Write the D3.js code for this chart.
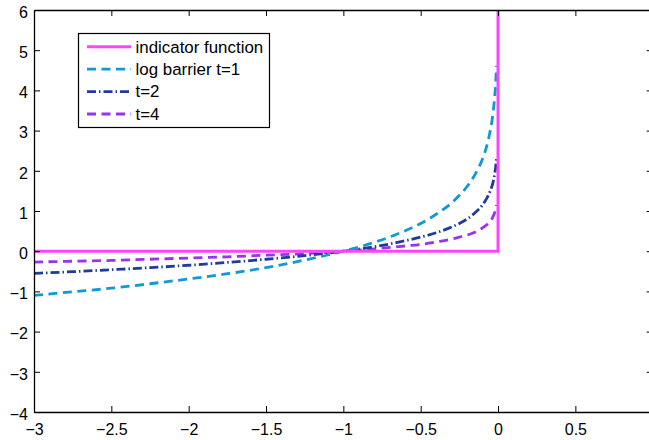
<!DOCTYPE html>
<html>
<head>
<meta charset="utf-8">
<script src="https://cdn.jsdelivr.net/npm/d3@7"></script>
<style>
  html, body { margin: 0; padding: 0; background: #fff; }
  svg { display: block; }
  text { font-family: "Liberation Sans", Arial, Helvetica, sans-serif; }
</style>
</head>
<body>
<svg id="chart" width="649" height="440"></svg>
<script>
// ---- data ----
const uValues = [-3, -2.75, -2.5, -2.25, -2, -1.75, -1.5, -1.25, -1, -0.8, -0.6, -0.5, -0.4, -0.3, -0.25, -0.2, -0.15, -0.1, -0.075, -0.05, -0.04, -0.03, -0.02, -0.015, -0.01];
const barrierT1 = [-1.10, -1.01, -0.92, -0.81, -0.69, -0.56, -0.41, -0.22, 0, 0.22, 0.51, 0.69, 0.92, 1.20, 1.39, 1.61, 1.90, 2.30, 2.59, 3.00, 3.22, 3.51, 3.91, 4.20, 4.61];
const barrierT2 = [-0.55, -0.51, -0.46, -0.41, -0.35, -0.28, -0.20, -0.11, 0, 0.11, 0.26, 0.35, 0.46, 0.60, 0.69, 0.80, 0.95, 1.15, 1.30, 1.50, 1.61, 1.75, 1.96, 2.10, 2.30];
const barrierT4 = [-0.27, -0.25, -0.23, -0.20, -0.17, -0.14, -0.10, -0.06, 0, 0.06, 0.13, 0.17, 0.23, 0.30, 0.35, 0.40, 0.47, 0.58, 0.65, 0.75, 0.80, 0.88, 0.98, 1.05, 1.15];
const indicatorU = [-3, 0, 0];
const indicatorY = [0, 0, 6];
const xTicks = [-3, -2.5, -2, -1.5, -1, -0.5, 0, 0.5, 1];
const yTicks = [-4, -3, -2, -1, 0, 1, 2, 3, 4, 5, 6];
const legendLabels = ["indicator function", "log barrier t=1", "t=2", "t=4"];

// ---- styles ----
const styles = [
  { color: "#ff44ff", dash: null, width: 3 },
  { color: "#1199d4", dash: "9,5.5", width: 2.8 },
  { color: "#1f3c9c", dash: "9,3,1.5,3", width: 2.8 },
  { color: "#9933ee", dash: "9,5.5", width: 2.8 }
];

const svg = d3.select("#chart");
const mLeft = 34, mRight = 652.7, mTop = 10, mBottom = 412;
const x = d3.scaleLinear().domain([-3, 1]).range([mLeft, mRight]);
const y = d3.scaleLinear().domain([-4, 6]).range([mBottom, mTop]);
const minus = s => String(s).replace("-", "\u2212");

svg.append("defs").append("clipPath").attr("id", "plotclip")
  .append("rect").attr("x", mLeft).attr("y", mTop).attr("width", mRight - mLeft).attr("height", mBottom - mTop);

const series = [
  indicatorU.map((u, i) => [u, indicatorY[i]]),
  uValues.map((u, i) => [u, barrierT1[i]]),
  uValues.map((u, i) => [u, barrierT2[i]]),
  uValues.map((u, i) => [u, barrierT4[i]])
];

const line = d3.line().x(d => x(d[0])).y(d => y(d[1])).curve(d3.curveMonotoneX);
const lineLin = d3.line().x(d => x(d[0])).y(d => y(d[1]));

const g = svg.append("g").attr("clip-path", "url(#plotclip)");
[3, 2, 1, 0].forEach(i => {
  g.append("path")
    .attr("d", i === 0 ? lineLin(series[i]) : line(series[i]))
    .attr("fill", "none")
    .attr("stroke", styles[i].color)
    .attr("stroke-width", styles[i].width)
    .attr("stroke-dasharray", styles[i].dash)
    .attr("stroke-linejoin", "miter");
});

// ---- axes (box with inward ticks) ----
const tickLen = 6;
const fmt = d => minus(d3.format("")(d));
const axB = svg.append("g").attr("transform", `translate(0,${mBottom})`)
  .call(d3.axisBottom(x).tickValues(xTicks.filter(v => v < 1)).tickSizeInner(-tickLen).tickSizeOuter(0).tickPadding(11.5).tickFormat(fmt));
const axT = svg.append("g").attr("transform", `translate(0,${mTop})`)
  .call(d3.axisTop(x).tickValues(xTicks).tickSizeInner(-tickLen).tickSizeOuter(0).tickFormat(""));
const axL = svg.append("g").attr("transform", `translate(${mLeft},0)`)
  .call(d3.axisLeft(y).tickValues(yTicks).tickSizeInner(-tickLen).tickSizeOuter(0).tickPadding(6).tickFormat(fmt));
const axR = svg.append("g").attr("transform", `translate(${mRight},0)`)
  .call(d3.axisRight(y).tickValues(yTicks).tickSizeInner(-tickLen).tickSizeOuter(0).tickFormat(""));

[axB, axT, axL, axR].forEach(a => {
  a.selectAll(".domain").attr("stroke", "#000").attr("stroke-width", 1.3);
  a.selectAll(".tick line").attr("stroke", "#000").attr("stroke-width", 1);
  a.selectAll("text").attr("font-size", 16).attr("fill", "#000")
    .style("font-family", "'Liberation Sans', Arial, Helvetica, sans-serif");
});
axB.selectAll("text").attr("dy", "0.71em").attr("y", 11.5);
axL.selectAll("text").attr("dy", "0.45em");

// ---- legend ----
const lg = svg.append("g");
lg.append("rect").attr("x", 78.5).attr("y", 33.5).attr("width", 191).attr("height", 94)
  .attr("fill", "#fff").attr("stroke", "#000").attr("stroke-width", 1.2);
legendLabels.forEach((lab, i) => {
  const yy = 46.8 + i * 22.4;
  lg.append("line").attr("x1", 87).attr("x2", 131).attr("y1", yy).attr("y2", yy)
    .attr("stroke", styles[i].color).attr("stroke-width", styles[i].width)
    .attr("stroke-dasharray", styles[i].dash);
  lg.append("text").attr("x", 135.5).attr("y", yy).attr("dy", "0.34em")
    .attr("font-size", 16.9).attr("fill", "#000").text(lab);
});
</script>
</body>
</html>
